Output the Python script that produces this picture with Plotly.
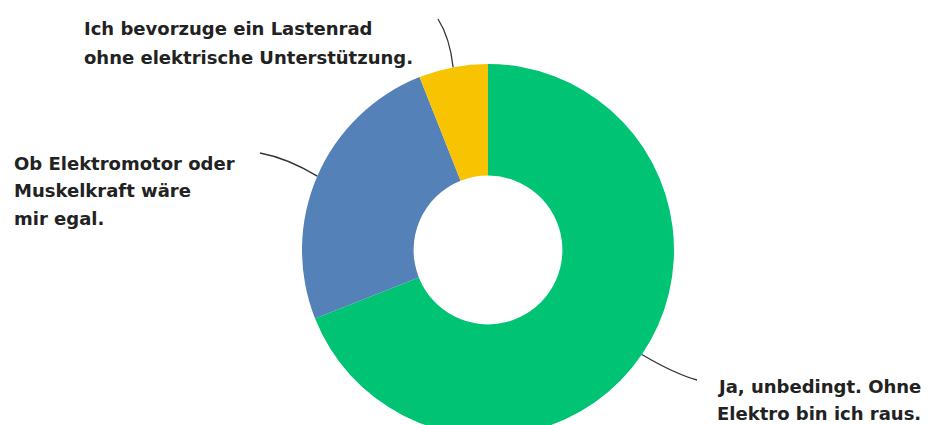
import math
import plotly.graph_objects as go

# ---- data ----
categories = [
    "Ja, unbedingt. Ohne Elektro bin ich raus.",
    "Ob Elektromotor oder Muskelkraft wäre mir egal.",
    "Ich bevorzuge ein Lastenrad ohne elektrische Unterstützung.",
]
values = [69, 25, 6]
colors = ["#00C373", "#5581B9", "#F8C300"]
label_lines = [
    ["Ja, unbedingt. Ohne", "Elektro bin ich raus."],
    ["Ob Elektromotor oder", "Muskelkraft wäre", "mir egal."],
    ["Ich bevorzuge ein Lastenrad", "ohne elektrische Unterstützung."],
]

# ---- layout constants (pixels) ----
W, H = 930, 440
CX, CY, R = 488, 250, 186
HOLE = 0.40
FONT = dict(family="DejaVu Sans", size=18, color="#222222", weight="bold")
label_pos = [(715, 391), (12, 168), (82, 33)]          # left x, first baseline
line_h = [27, 27.5, 29]
leader_end = [(697, 380), (260, 153), (438, 19)]
leader_ctrl = [(675, 374), (287, 158), (450, 38)]

fig = go.Figure()
fig.add_trace(go.Pie(
    labels=categories, values=values, sort=False, direction="clockwise",
    rotation=0, hole=HOLE, textinfo="none", hoverinfo="label+percent",
    marker=dict(colors=colors, line=dict(width=0)), showlegend=False,
    domain=dict(x=[(CX - R) / W, (CX + R) / W],
                y=[1 - (CY + R) / H, 1 - (CY - R) / H]),
))

# invisible pixel-space axes for labels & leader lines
fig.add_trace(go.Scatter(x=[0, W], y=[0, H], mode="markers",
                         marker=dict(opacity=0), hoverinfo="skip", showlegend=False))

total = sum(values)
cum = 0
shapes = []
annotations = []
for i, v in enumerate(values):
    mid = (cum + v / 2) / total * 2 * math.pi
    cum += v
    sx = CX + R * math.sin(mid)
    sy = CY - R * math.cos(mid)
    ex, ey = leader_end[i]
    qx, qy = leader_ctrl[i]
    shapes.append(dict(type="path", xref="x", yref="y",
                       path=f"M {sx:.1f},{sy:.1f} Q {qx},{qy} {ex},{ey}",
                       line=dict(color="#333333", width=1.3), layer="above"))
    lx, ly = label_pos[i]
    for j, line in enumerate(label_lines[i]):
        annotations.append(dict(x=lx, y=ly + j * line_h[i] - 5, xref="x", yref="y",
                                text=line, showarrow=False, xanchor="left",
                                yanchor="middle", font=FONT))

fig.update_layout(
    width=W, height=H, margin=dict(l=0, r=0, t=0, b=0),
    paper_bgcolor="white", plot_bgcolor="rgba(0,0,0,0)",
    xaxis=dict(range=[0, W], visible=False, fixedrange=True, domain=[0, 1]),
    yaxis=dict(range=[H, 0], visible=False, fixedrange=True, domain=[0, 1]),
    shapes=shapes, annotations=annotations,
)

fig.write_html("out.html")
